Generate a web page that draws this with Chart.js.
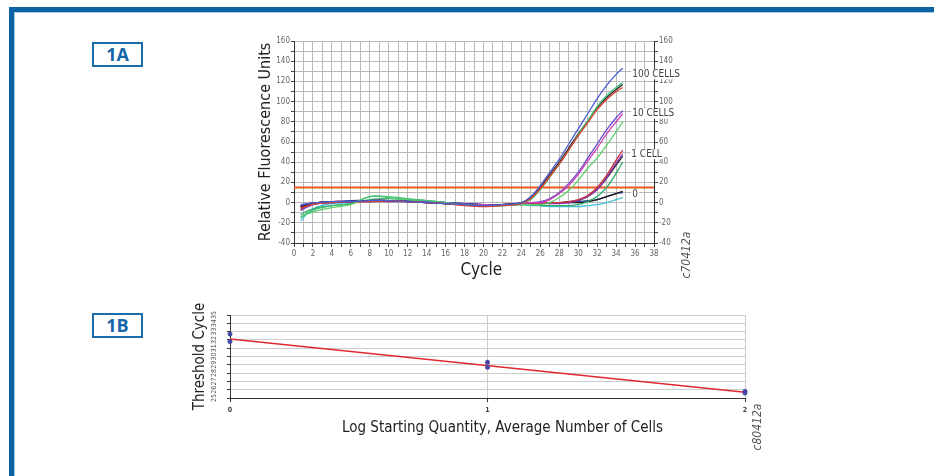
<!DOCTYPE html>
<html>
<head>
<meta charset="utf-8">
<script src="https://cdn.jsdelivr.net/npm/chart.js@4.4.0/dist/chart.umd.min.js"></script>
<style>
  body { margin: 0; width: 934px; height: 476px; overflow: hidden; position: relative; background: #fff; }
  .bar { position: absolute; background: #0b63a3; }
  .hair { position: absolute; background: #a7c9e6; }
  .tag { position: absolute; width: 47px; height: 21px; border: 2px solid #1a6cab; color: #1565a8;
         font: bold 18px 'Open Sans', 'Liberation Sans', sans-serif; text-align: center; line-height: 21px; }
  .code { position: absolute; width: 64px; height: 14px; line-height: 14px; text-align: center; transform: rotate(-90deg);
          font: italic 12px 'Liberation Sans Narrow', 'DejaVu Sans Condensed', sans-serif; color: #555; }
  canvas { position: absolute; }
</style>
</head>
<body>
<div class="bar" style="left:9px;top:7px;right:0;height:5px"></div>
<div class="bar" style="left:9px;top:7px;width:5px;bottom:0"></div>
<div class="hair" style="left:14px;top:12px;right:0;height:1px"></div>
<div class="hair" style="left:14px;top:12px;width:1px;bottom:0"></div>

<div class="tag" style="left:92px;top:42px">1A</div>
<div class="tag" style="left:92px;top:313px">1B</div>

<canvas id="amp" width="470" height="265" style="left:230px;top:30px"></canvas>
<canvas id="std" width="600" height="150" style="left:170px;top:300px"></canvas>

<div class="code" style="left:654px;top:248px">c70412a</div>
<div class="code" style="left:725px;top:420px">c80412a</div>

<script>
const NARROW = "'Liberation Sans Narrow', 'DejaVu Sans Condensed', 'Liberation Sans', sans-serif";
Chart.defaults.font.family = NARROW;

// ---- 1A: amplification curves ----
const cycles = [0.7, 1.5, 2.5, 4, 6, 8, 10, 12, 14, 16, 18, 20, 22, 24, 25, 26, 27, 28, 29, 30, 31, 32, 33, 34, 34.7];

// 100 cells
const blue100  = [-2, -1, 0, 1, 1, 2, 2, 1, 0, -1, -2, -3, -2, 0, 6, 17, 30, 43, 58, 73, 88, 103, 116, 127, 133];
const red100   = [-6, -3, -1, 0, 1, 1, 2, 1, 0, -1, -3, -4, -3, -1, 4, 14, 26, 38, 52, 66, 79, 92, 102, 110, 114];
const green100 = [-15, -10, -6, -3, -1, 6, 6, 4, 2, 0, -2, -3, -3, -1, 3, 13, 25, 38, 52, 67, 81, 95, 106, 114, 119];
const black100 = [-4, -2, 0, 1, 1, 2, 2, 1, 0, -1, -2, -3, -2, 0, 5, 15, 28, 40, 54, 68, 81, 94, 104, 112, 117];
// 10 cells
const magenta10 = [-3, -1, 0, 1, 1, 1, 2, 1, 0, -1, -2, -2, -2, -1, 0, 0, 3, 9, 17, 28, 41, 54, 68, 80, 88];
const purple10  = [-8, -4, -1, 0, 1, 2, 2, 1, 1, 0, -1, -2, -2, -1, 0, 1, 4, 10, 19, 30, 44, 58, 72, 84, 91];
const green10   = [-14, -11, -8, -5, -2, 6, 5, 3, 2, 0, -2, -3, -3, -2, -2, -2, 0, 5, 12, 22, 34, 44, 57, 70, 80];
// 1 cell
const red1    = [-5, -2, 0, 1, 1, 1, 1, 1, 0, -1, -2, -3, -2, -1, -1, 0, 0, 0, 1, 3, 7, 15, 27, 42, 52];
const purple1 = [-7, -3, -1, 0, 1, 1, 2, 1, 0, -1, -2, -2, -2, -1, -1, -1, -1, -1, 0, 2, 6, 13, 25, 39, 48];
const black1  = [-3, -1, 0, 1, 1, 2, 2, 1, 1, 0, -1, -2, -2, -1, -1, 0, 0, 0, 1, 2, 6, 13, 24, 37, 46];
const green1  = [-12, -8, -5, -3, -1, 3, 4, 3, 2, 0, -2, -3, -3, -2, -2, -3, -3, -3, -3, -2, 1, 6, 15, 29, 40];
// no template
const black0 = [-4, -2, 0, 1, 1, 2, 2, 1, 0, -1, -2, -3, -2, -1, -1, 0, 0, 0, 0, 0, 1, 3, 6, 9, 11];
const navy0  = [-3, -1, 0, 1, 2, 2, 2, 2, 1, 0, -1, -2, -2, -1, 0, 0, 0, 0, 0, 1, 2, 3, 6, 9, 10];
const cyan0  = [-18, -10, -4, -1, 0, 1, 1, 1, 1, 0, -1, -2, -2, -2, -3, -3, -4, -4, -4, -4, -3, -2, 0, 3, 5];

const curves = [blue100, red100, green100, black100, magenta10, purple10, green10,
                red1, purple1, black1, green1, black0, navy0, cyan0];
const curveColors = ['#4a5cd0', '#e0402a', '#45c07a', '#2a2a3a', '#d040b0', '#6a4ad0', '#5ccf6a',
                     '#c83040', '#8a3ab8', '#262626', '#2fa86a', '#1a1a1a', '#3040a0', '#40c0d8'];

const thresholdCycles = [0, 38];
const thresholdLevel = [15, 15];

const curveLabels = ['100 CELLS', '10 CELLS', '1 CELL', '0'];
const labelCycle = [35.7, 35.7, 35.6, 35.7];
const labelLevel = [127, 88, 48, 8];

function points(xs, ys) {
  return xs.map((x, i) => ({ x: x, y: ys[i] }));
}

const curveLabelPlugin = {
  id: 'curveLabels',
  afterDraw(chart) {
    const { ctx, scales } = chart;
    ctx.save();
    ctx.font = '10px ' + NARROW;
    ctx.textBaseline = 'middle';
    curveLabels.forEach((t, i) => {
      const x = scales.x.getPixelForValue(labelCycle[i]);
      const y = scales.y.getPixelForValue(labelLevel[i]);
      const w = ctx.measureText(t).width;
      ctx.fillStyle = '#fff';
      ctx.fillRect(x - 1, y - 5, w + 2, 10);
      ctx.fillStyle = '#444';
      ctx.fillText(t, x, y);
    });
    ctx.restore();
  }
};

const ampDatasets = curves.map((c, i) => ({
  data: points(cycles, c),
  borderColor: curveColors[i],
  borderWidth: 1.3,
  pointRadius: 0,
  tension: 0.35
}));
ampDatasets.push({
  data: points(thresholdCycles, thresholdLevel),
  borderColor: '#ec5a1e',
  borderWidth: 2,
  pointRadius: 0
});

const tickFont = { size: 8 };
new Chart(document.getElementById('amp'), {
  type: 'line',
  data: { datasets: ampDatasets },
  options: {
    responsive: false,
    animation: false,
    layout: { padding: { top: 11, left: 0, right: 0, bottom: 0 } },
    plugins: { legend: { display: false }, tooltip: { enabled: false } },
    scales: {
      x: {
        type: 'linear', min: 0, max: 38,
        ticks: { stepSize: 1, autoSkip: false, maxRotation: 0, font: tickFont, color: '#666', padding: 2,
                 callback: v => (v % 2 === 0 ? v : '') },
        grid: { color: '#b8b8b8', tickColor: '#444', tickLength: 4 },
        border: { color: '#333' },
        title: { display: true, text: '   Cycle', color: '#222', font: { size: 17 }, padding: { top: 0, bottom: 14 } },
        afterFit: s => { s.height = 52; }
      },
      y: {
        min: -40, max: 160,
        ticks: { stepSize: 10, autoSkip: false, font: tickFont, color: '#666', padding: 1,
                 callback: v => (v % 20 === 0 ? v : '') },
        grid: { color: '#b8b8b8', tickColor: '#444', tickLength: 3 },
        border: { color: '#333' },
        title: { display: true, text: 'Relative Fluorescence Units', color: '#222', font: { size: 16 },
                 padding: { top: 26, bottom: 0 } },
        afterFit: s => { s.width = 64; }
      },
      y2: {
        position: 'right', min: -40, max: 160,
        ticks: { stepSize: 10, autoSkip: false, font: tickFont, color: '#666', padding: 1,
                 callback: v => (v % 20 === 0 ? v : '') },
        grid: { drawOnChartArea: false, tickColor: '#444', tickLength: 4 },
        border: { color: '#333' },
        afterFit: s => { s.width = 46; }
      }
    }
  },
  plugins: [curveLabelPlugin]
});

// ---- 1B: standard curve ----
const logQuantity = [0, 0, 1, 1, 2, 2];
const thresholdCycle = [32.7, 31.8, 29.3, 28.7, 25.8, 25.6];
const fitQuantity = [0, 2];
const fitCycle = [32.1, 25.7];

new Chart(document.getElementById('std'), {
  type: 'scatter',
  data: {
    datasets: [
      { data: points(logQuantity, thresholdCycle), backgroundColor: '#4646a8', borderColor: '#3a3a96',
        pointRadius: 2.2, borderWidth: 0.5, clip: false },
      { data: points(fitQuantity, fitCycle), showLine: true, borderColor: '#e3272e', borderWidth: 1.6,
        pointRadius: 0 }
    ]
  },
  options: {
    responsive: false,
    animation: false,
    layout: { padding: { top: 15, left: 0, right: 25, bottom: 0 } },
    plugins: { legend: { display: false }, tooltip: { enabled: false } },
    scales: {
      x: {
        type: 'linear', min: 0, max: 2,
        ticks: { stepSize: 1, maxRotation: 0, font: { size: 7, weight: 'bold' }, color: '#444', padding: 4 },
        grid: { color: '#cccccc', tickColor: '#333', tickLength: 4 },
        border: { color: '#333' },
        title: { display: true, text: '       Log Starting Quantity, Average Number of Cells', color: '#222',
                 font: { size: 15 }, padding: { top: 0, bottom: 13 } },
        afterFit: s => { s.height = 52; }
      },
      y: {
        min: 25, max: 35,
        ticks: { stepSize: 1, autoSkip: false, minRotation: 90, maxRotation: 90, crossAlign: 'center',
                 font: { size: 7 }, color: '#555', padding: 9 },
        grid: { color: '#cccccc', tickColor: '#333', tickLength: 3 },
        border: { color: '#333' },
        title: { display: true, text: 'Threshold Cycle', color: '#222', font: { size: 15 },
                 padding: { top: 21, bottom: 0 } },
        afterFit: s => { s.width = 60; }
      }
    }
  }
});
</script>
</body>
</html>
